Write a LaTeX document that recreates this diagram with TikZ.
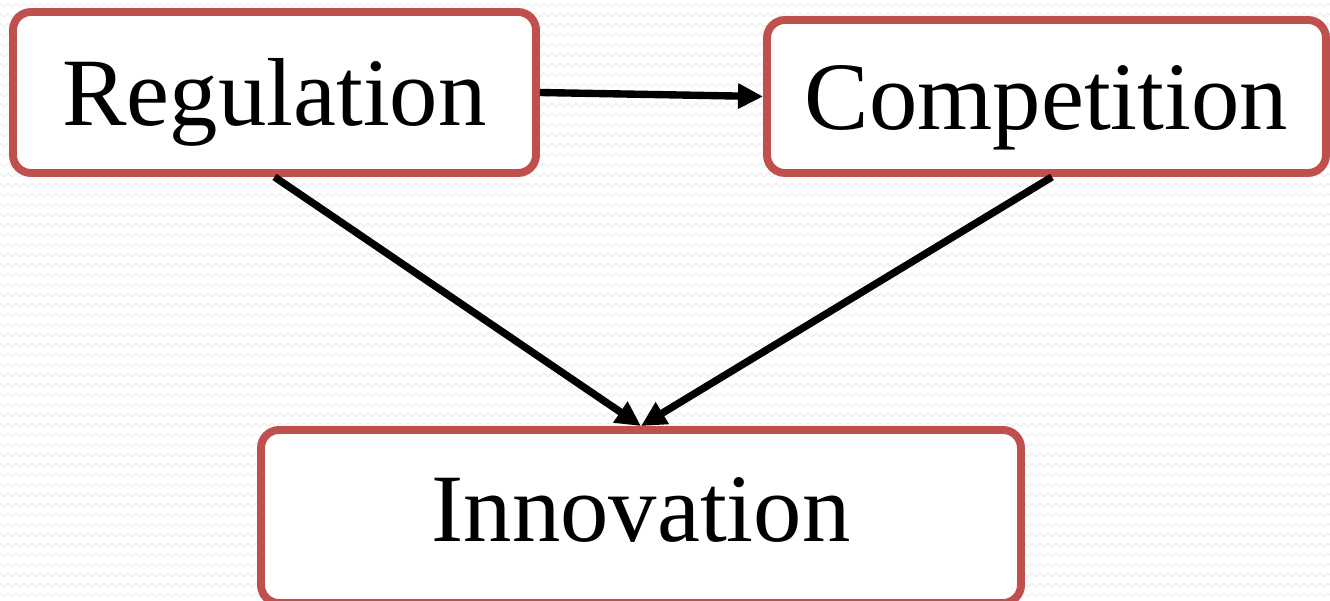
\documentclass[tikz,border=0pt]{standalone}
\usepackage{fontspec}
\setmainfont{Liberation Serif}
\usepackage{tikz}
\usetikzlibrary{arrows.meta, positioning, calc, decorations.pathmorphing}
\definecolor{boxred}{HTML}{C0504D}
\definecolor{wavegray}{HTML}{EDEDED}

\begin{document}
\begin{tikzpicture}[>=Stealth,
    factor/.style={rectangle, draw=boxred, line width=4.5pt, fill=white,
                   rounded corners=0.36cm, inner sep=0pt,
                   font=\fontsize{55}{60}\selectfont,
                   text height=49pt, text depth=12pt},
    arrow/.style={-{Triangle[length=0.5cm, width=0.48cm]}, line width=4.2pt, black},
    wave/.style={wavegray, line width=0.6pt,
                 decorate, decoration={zigzag, segment length=0.16cm, amplitude=0.04cm}}]

    % Page size and textured background
    \useasboundingbox (0,0) rectangle (26.6,12);
    \fill[white] (0,0) rectangle (26.6,12);
    \begin{scope}
        \clip (0,0) rectangle (26.6,12);
        \foreach \y in {0.1,0.3,...,12.1}
            \draw[wave] (-0.2,\y) -- (26.8,\y);
    \end{scope}

    % Main boxes
    \node[factor, minimum width=10.46cm, minimum height=3.22cm] (reg) at (5.49,10.15) {Regulation};
    \node[factor, minimum width=11.18cm, minimum height=3.06cm] (comp) at (20.93,10.07) {Competition};
    \node[factor, minimum width=15.2cm, minimum height=3.46cm, text depth=21pt] (inn) at (12.82,1.67) {Innovation};

    % Arrows
    \draw[arrow] (reg.east) -- (comp.west);
    \draw[arrow] (reg.south) -- (inn.north);
    \draw[arrow] ($(comp.south)+(0.11,0)$) -- (inn.north);

\end{tikzpicture}
\end{document}
